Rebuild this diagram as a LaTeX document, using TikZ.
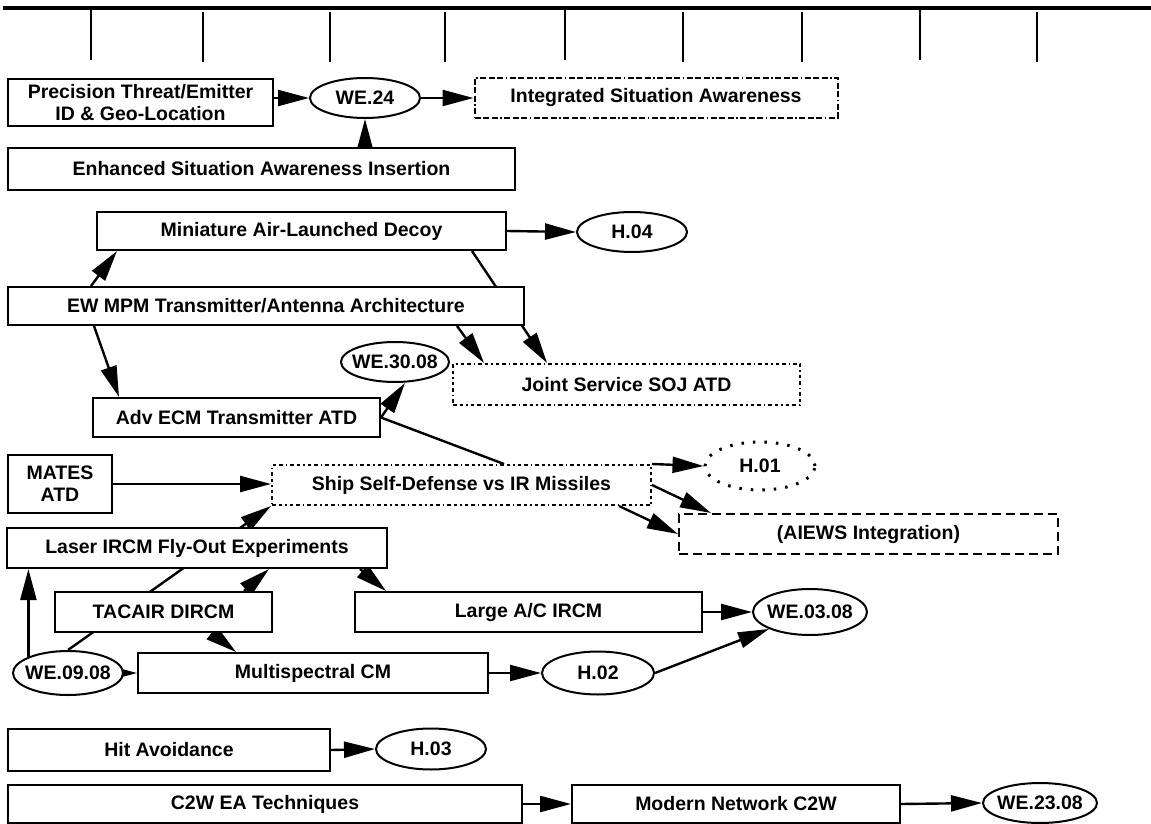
\documentclass[tikz,border=0pt]{standalone}
\usepackage{fontspec}
\setmainfont{Liberation Sans}
\usetikzlibrary{arrows.meta, calc, shapes.geometric, backgrounds}
\tikzset{
	box/.style={rectangle, draw, line width=2pt, fill=white, align=center, inner sep=0pt, minimum height=40pt, font=\bfseries\fontsize{19.5}{22}\selectfont},
	plannedbox/.style={box, dash pattern=on 6pt off 2.5pt on 6pt off 2.5pt on 6pt off 2.5pt on 1.5pt off 2.5pt},
	trialbox/.style={box, dash pattern=on 3.5pt off 3pt on 3.5pt off 3pt on 1.5pt off 3pt},
	futurebox/.style={box, dash pattern=on 9pt off 5pt},
	goal/.style={ellipse, draw, line width=2pt, fill=white, inner xsep=-14pt, inner ysep=0pt, minimum width=110pt, minimum height=40pt, font=\bfseries\fontsize{19.5}{22}\selectfont},
	arrow/.style={-{Triangle[length=31pt, width=16pt]}, line width=2.4pt},
	link/.style={line width=2.4pt},
	tick/.style={line width=1.5pt},
}

\begin{document}
\begin{tikzpicture}[x=1pt, y=-1pt]
	\useasboundingbox (0,0) rectangle (1151,824);
	% time line
	\draw[line width=3.5pt] (3,8) -- (1151,8);
	\foreach \x in {91,565,920} \draw[tick] (\x,10) -- (\x,60);
	\foreach \x in {203,330,445,683,802,1037} \draw[tick] (\x,12) -- (\x,62);

	% programs and goals
	\node[box, minimum width=265pt, minimum height=47pt] (prec) at (140.5,102.5) {Precision Threat/Emitter\\ID \& Geo-Location};
	\node[goal] (we24) at (365,98) {WE.24};
	\node[plannedbox, minimum width=363pt] (isa) at (656,98) {Integrated Situation Awareness};
	\node[box, minimum width=507pt, minimum height=42pt] (esa) at (261.5,169) {Enhanced Situation Awareness Insertion};
	\node[box, minimum width=409pt, minimum height=38pt] (mald) at (301.5,231) {Miniature Air-Launched Decoy};
	\node[goal] (h04) at (632,232) {H.04};
	\node[box, minimum width=516pt, minimum height=38pt] (mpm) at (266,306) {EW MPM Transmitter/Antenna Architecture};
	\node[goal, minimum width=108pt] (we3008) at (395,362) {WE.30.08};
	\node[trialbox, minimum width=347pt, minimum height=41pt] (soj) at (626.5,384.5) {Joint Service SOJ ATD};
	\node[box, minimum width=287pt, minimum height=39pt] (aecm) at (236.5,417.5) {Adv ECM Transmitter ATD};
	\node[box, minimum width=104pt, minimum height=58pt] (mates) at (60,484) {MATES\\ATD};
	\node[trialbox, minimum width=379pt] (ssd) at (461.5,485) {Ship Self-Defense vs IR Missiles};
	\node[goal, line width=3pt, dash pattern=on 2.5pt off 9pt, minimum height=48pt] (h01) at (760,466) {H.01};
	\node[futurebox, minimum width=379pt] (aiews) at (868.5,534) {(AIEWS Integration)};
	\node[box, minimum width=380pt] (laser) at (197,548) {Laser IRCM Fly-Out Experiments};
	\node[box, minimum width=217pt] (tacair) at (163.5,612) {TACAIR DIRCM};
	\node[box, minimum width=347pt] (lac) at (528.5,612) {Large A/C IRCM};
	\node[goal, minimum width=114pt, minimum height=46pt] (we0308) at (810,612) {WE.03.08};
	\node[goal, minimum height=44pt] (we0908) at (68,673) {WE.09.08};
	\node[box, minimum width=350pt] (mscm) at (313,673) {Multispectral CM};
	\node[goal, minimum width=112pt, minimum height=43pt] (h02) at (598,673) {H.02};
	\node[box, minimum width=322pt, minimum height=42pt] (hit) at (169,750) {Hit Avoidance};
	\node[goal, minimum height=41pt] (h03) at (431,749) {H.03};
	\node[box, minimum width=514pt, minimum height=38pt] (c2w) at (265,804) {C2W EA Techniques};
	\node[box, minimum width=328pt, minimum height=38pt] (mnc2w) at (736,804) {Modern Network C2W};
	\node[goal, minimum width=114pt] (we2308) at (1040,803) {WE.23.08};

	% links, kept behind the boxes
	\begin{scope}[on background layer]
		\draw[arrow] (prec.east |- we24.west) -- (we24.west);
		\draw[arrow] (we24) -- (isa);
		\draw[arrow] (esa.north -| we24) -- (we24.south);
		\draw[arrow] (mald.east) -- (h04.west);
		\draw[arrow] ($(mpm.north west)+(84,0)$) -- ($(mald.south west)+(21,0)$);
		\draw[arrow] ($(mald.south west)+(376,0)$) -- ($(soj.north west)+(95,0)$);
		\draw[arrow] ($(mpm.south west)+(450,0)$) -- ($(soj.north west)+(32,0)$);
		\draw[arrow] ($(mpm.south west)+(87,0)$) -- ($(aecm.north west)+(27,0)$);
		\draw[arrow] (aecm.east) -- ($(we3008.south)+(10,0)$);
		\draw[link] (aecm.east) -- ($(ssd.north west)+(233,0)$);
		\draw[arrow] (mates) -- (ssd.west |- mates);
		\draw[arrow] (we0908.north) -- (ssd.south west);
		\draw[arrow] (ssd.north east) -- (h01.west);
		\draw[arrow] (ssd.east) -- ($(aiews.north west)+(33,0)$);
		\draw[arrow] ($(ssd.south east)+(-33,0)$) -- (aiews.west);
		\draw[arrow] ($(laser.south east)+(-28,0)$) -- ($(lac.north west)+(32,0)$);
		\draw[arrow] ($(tacair.north west)+(190,0)$) -- ($(laser.south west)+(263,0)$);
		\draw[arrow] ($(tacair.south west)+(158,0)$) -- ($(mscm.north west)+(99,0)$);
		\draw[arrow] (we0908.north west) -- (laser.south -| we0908.north west);
		\draw[arrow] (we0908) -- (mscm);
		\draw[arrow] (lac) -- (we0308);
		\draw[arrow] (mscm) -- (h02);
		\draw[arrow] (h02.east) -- (we0308.south west);
		\draw[arrow] (hit.east) -- (h03.west);
		\draw[arrow] (c2w) -- (mnc2w);
		\draw[arrow] (mnc2w.east) -- (we2308.west);
	\end{scope}
\end{tikzpicture}
\end{document}
